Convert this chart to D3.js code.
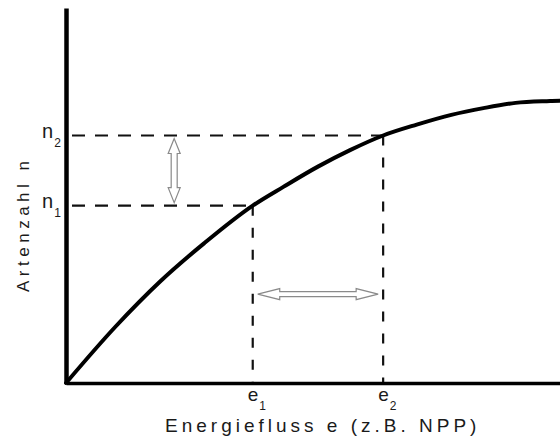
<!DOCTYPE html>
<html><head><meta charset="utf-8">
<script src="https://cdn.jsdelivr.net/npm/d3@7"></script>
<style>
html,body{margin:0;padding:0;background:#fff;}
svg{display:block;}
text{font-family:"Liberation Sans",Arial,sans-serif;fill:#1a1a1a;}
</style></head>
<body>
<svg id="chart" width="560" height="439"></svg>
<script>
// Data (arbitrary units)
const energy  = [0, 1.0, 1.9, 2.8, 3.78, 4.4, 5.1, 5.75, 6.42, 7.1, 7.8, 8.45, 9.1, 9.8, 10];
const species = [0, 1.5, 2.7, 3.73, 4.73, 5.23, 5.77, 6.21, 6.6, 6.89, 7.15, 7.33, 7.47, 7.52, 7.53];
const eMarks = [3.78, 6.42];          // e1, e2
const nMarks = [4.73, 6.6];           // n1, n2
const eLabels = ["1", "2"];
const nLabels = ["1", "2"];
const xTitle = "Energiefluss e (z.B. NPP)";
const yTitle = "Artenzahl n";

const svg = d3.select("#chart");
const x = d3.scaleLinear().domain([0, 10]).range([66, 560]);
const y = d3.scaleLinear().domain([0, 10]).range([383, 8]);

// dashed guide lines
const guides = svg.append("g").attr("stroke", "#111").attr("stroke-width", 2.2).attr("fill", "none");
nMarks.forEach((n, i) => {
  guides.append("line").attr("x1", x(0)).attr("x2", x(eMarks[i])).attr("y1", y(n)).attr("y2", y(n))
    .attr("stroke-dasharray", "13,10").attr("stroke-dashoffset", -6);
  guides.append("line").attr("x1", x(eMarks[i])).attr("x2", x(eMarks[i])).attr("y1", y(n)).attr("y2", y(0))
    .attr("stroke-dasharray", "10,12").attr("stroke-dashoffset", 0);
});

// axes
const yAxis = svg.append("g").attr("transform", `translate(${x(0)},0)`)
  .call(d3.axisLeft(y).tickValues([]).tickSize(0).tickSizeOuter(0));
yAxis.select(".domain").attr("stroke", "#000").attr("stroke-width", 4.5);
const xAxis = svg.append("g").attr("transform", `translate(0,${y(0)})`)
  .call(d3.axisBottom(x).tickValues([]).tickSize(0).tickSizeOuter(0));
xAxis.select(".domain").attr("stroke", "#000").attr("stroke-width", 3.5);

// curve
const line = d3.line().x((d, i) => x(energy[i])).y((d, i) => y(species[i])).curve(d3.curveMonotoneX);
svg.append("path").datum(energy).attr("d", line)
  .attr("fill", "none").attr("stroke", "#000").attr("stroke-width", 4).attr("stroke-linecap", "round");

// hollow double arrows
function doubleArrow(x1, y1, x2, y2, headLen, headHalf, shaftHalf) {
  const dx = x2 - x1, dy = y2 - y1, L = Math.hypot(dx, dy);
  const ux = dx / L, uy = dy / L, px = -uy, py = ux;
  const P = (a, b) => [x1 + ux * a + px * b, y1 + uy * a + py * b];
  const pts = [P(0, 0), P(headLen, headHalf), P(headLen, shaftHalf), P(L - headLen, shaftHalf),
    P(L - headLen, headHalf), P(L, 0), P(L - headLen, -headHalf), P(L - headLen, -shaftHalf),
    P(headLen, -shaftHalf), P(headLen, -headHalf)];
  svg.append("polygon").attr("points", pts.map(p => p.join(",")).join(" "))
    .attr("fill", "#fff").attr("stroke", "#8a8a8a").attr("stroke-width", 1.2).attr("stroke-linejoin", "miter");
}
const arrowX = 2.19, arrowY = 2.37;
doubleArrow(x(arrowX), y(nMarks[1]) + 3, x(arrowX), y(nMarks[0]) - 3, 15, 6, 3);
doubleArrow(x(eMarks[0]) + 5, y(arrowY), x(eMarks[1]) - 5, y(arrowY), 22, 5.5, 2.5);

// n labels
nMarks.forEach((n, i) => {
  const t = svg.append("text").attr("x", 42).attr("y", y(n) + 2).style("font-size", "20px");
  t.append("tspan").text("n");
  t.append("tspan").attr("dx", 1).attr("dy", 9).style("font-size", "12px").text(nLabels[i]);
});
// e labels
eMarks.forEach((e, i) => {
  const t = svg.append("text").attr("x", x(e) - 5).attr("y", 401).style("font-size", "19px");
  t.append("tspan").text("e");
  t.append("tspan").attr("dx", 1).attr("dy", 9).style("font-size", "12px").text(eLabels[i]);
});

// axis titles
svg.append("text").attr("x", 165).attr("y", 432)
  .style("font-size", "19px").style("letter-spacing", "4px").text(xTitle);
svg.append("text").attr("transform", "translate(29,292) rotate(-90)")
  .style("font-size", "17px").style("letter-spacing", "4.5px").text(yTitle);
</script>
</body></html>
